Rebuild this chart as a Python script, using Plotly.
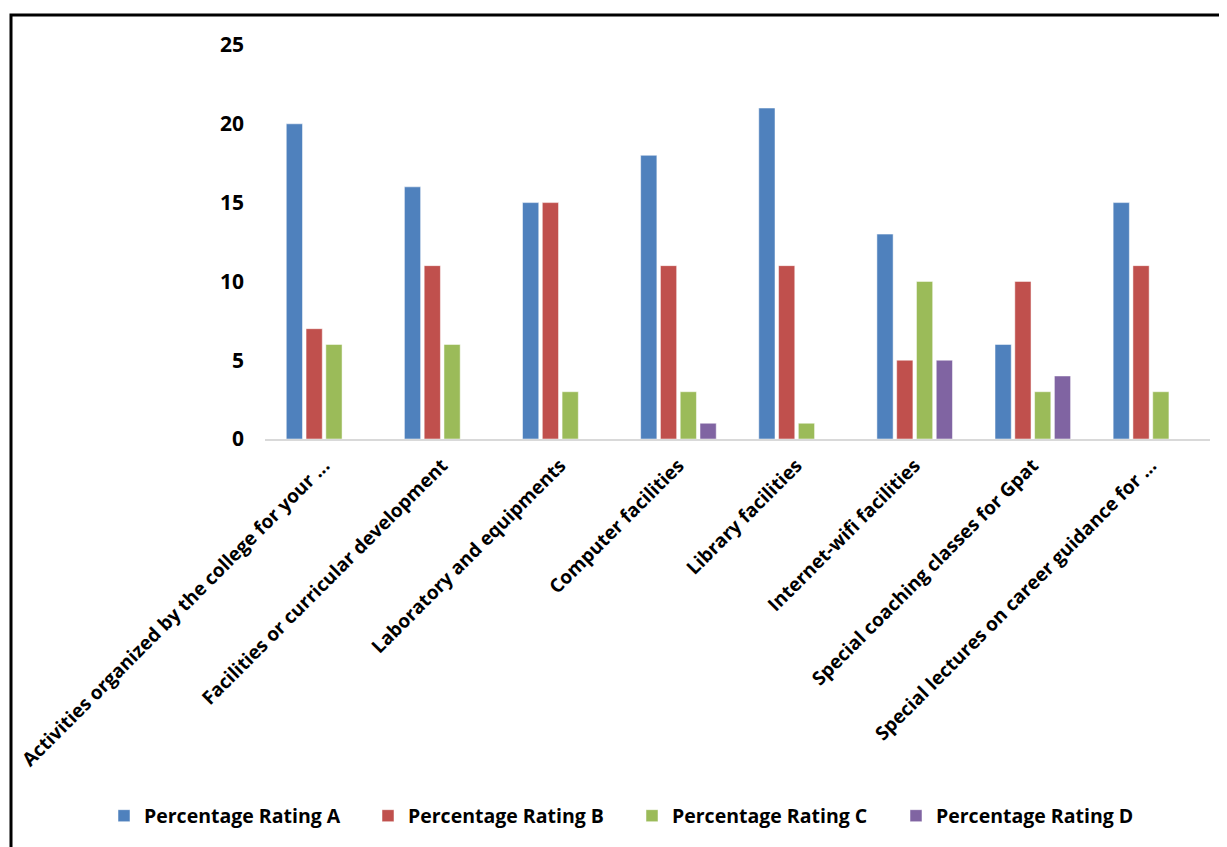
import plotly.graph_objects as go

categories = [
    "Activities organized by the college for your ...",
    "Facilities or curricular development",
    "Laboratory and equipments",
    "Computer facilities",
    "Library facilities",
    "Internet-wifi facilities",
    "Special coaching classes for Gpat",
    "Special lectures on career guidance for ...",
]
rating_a = [20, 16, 15, 18, 21, 13, 6, 15]
rating_b = [7, 11, 15, 11, 11, 5, 10, 11]
rating_c = [6, 6, 3, 3, 1, 10, 3, 3]
rating_d = [0, 0, 0, 1, 0, 5, 4, 0]
y_ticks = [0, 5, 10, 15, 20, 25]

series = [
    ("Percentage Rating A", rating_a, "#4F81BD"),
    ("Percentage Rating B", rating_b, "#C0504D"),
    ("Percentage Rating C", rating_c, "#9BBB59"),
    ("Percentage Rating D", rating_d, "#8064A2"),
]

FONT = "Open Sans"
OFF = 8  # page body margin

fig = go.Figure()
for name, vals, col in series:
    fig.add_trace(go.Bar(
        x=categories, y=vals, name=name,
        marker=dict(color=col, line=dict(color="white", width=0.5)),
    ))

W, H = 1219, 839
L, R, T, B = 257, 17, 37, 408
pw, ph = W - L - R, H - T - B

def px_x(x):
    return (x - OFF - L) / pw

def px_y(y):
    return (H - B - (y - OFF)) / ph

fig.update_layout(
    width=W, height=H,
    margin=dict(l=L, r=R, t=T, b=B, autoexpand=False),
    paper_bgcolor="white", plot_bgcolor="white",
    barmode="group", bargap=0.33, bargroupgap=0.18,
    font=dict(family=FONT, color="black"),
    showlegend=True,
    legend=dict(
        orientation="h", x=px_x(104), xanchor="left",
        y=px_y(816), yanchor="middle",
        font=dict(family=FONT, size=19.5, color="black", weight="bold"),
        entrywidth=219, itemwidth=30, traceorder="normal",
    ),
    xaxis=dict(
        showline=True, linecolor="#D9D9D9", linewidth=2,
        showgrid=False, ticks="", tickangle=-45, ticklabelstandoff=6,
        tickfont=dict(family=FONT, size=19, color="black", weight="bold"),
    ),
    yaxis=dict(
        range=[0, 25], tickvals=y_ticks, showgrid=False, zeroline=False,
        showline=False, ticks="", ticklabelstandoff=20,
        tickfont=dict(family=FONT, size=21, color="black", weight="bold"),
    ),
    shapes=[dict(
        type="rect", xref="paper", yref="paper",
        x0=px_x(11), x1=px_x(1260), y0=px_y(880), y1=px_y(15),
        line=dict(color="black", width=3), fillcolor="rgba(0,0,0,0)",
        layer="above",
    )],
)

fig.write_html("out.html")
